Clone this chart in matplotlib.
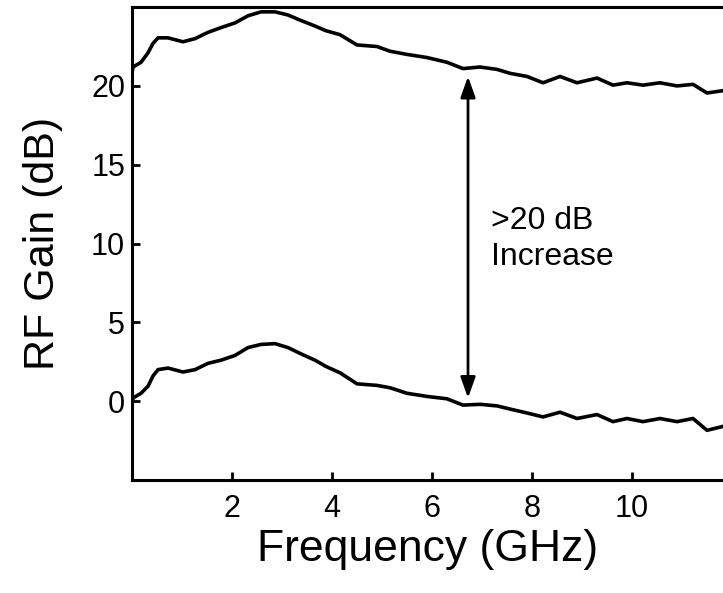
import matplotlib
matplotlib.use('Agg')
import matplotlib.pyplot as plt

plt.rcParams['font.family'] = ['Liberation Sans', 'DejaVu Sans']

# Frequency points (GHz)
freq = [0.0, 0.02, 0.18, 0.32, 0.42, 0.52, 0.72, 1.02, 1.26, 1.52, 1.78, 2.06,
        2.32, 2.58, 2.86, 3.12, 3.38, 3.66, 3.88, 4.16, 4.5, 4.9, 5.16, 5.5,
        5.9, 6.3, 6.62, 6.96, 7.3, 7.56, 7.9, 8.22, 8.56, 8.9, 9.3, 9.62, 9.9,
        10.22, 10.56, 10.9, 11.22, 11.5, 11.82]

# Upper trace (after) in dB
gain_high = [20.8, 21.2, 21.5, 22.1, 22.7, 23.05, 23.05, 22.8, 23.0, 23.4, 23.7, 24.0,
             24.45, 24.7, 24.7, 24.5, 24.15, 23.8, 23.5, 23.25, 22.6, 22.5, 22.2, 22.0,
             21.8, 21.5, 21.1, 21.2, 21.05, 20.8, 20.6, 20.2, 20.6, 20.2, 20.5, 20.05, 20.2,
             20.05, 20.2, 20.0, 20.1, 19.55, 19.7]

# Lower trace (before) in dB
gain_low = [-0.3, 0.2, 0.5, 0.95, 1.6, 2.0, 2.1, 1.85, 2.0, 2.4, 2.6, 2.9,
            3.4, 3.6, 3.65, 3.4, 3.0, 2.6, 2.2, 1.8, 1.1, 1.0, 0.85, 0.5,
            0.3, 0.15, -0.25, -0.2, -0.3, -0.5, -0.75, -1.0, -0.7, -1.1, -0.85, -1.3, -1.1,
            -1.3, -1.1, -1.3, -1.1, -1.85, -1.6]

arrow_x = 6.72
arrow_top = 20.6
arrow_bottom = 0.2

fig = plt.figure(figsize=(7.23, 5.93), dpi=100)
ax = fig.add_axes([0.1826, 0.1906, 0.8174, 0.7974])

ax.plot(freq, gain_high, color='black', lw=2.6)
ax.plot(freq, gain_low, color='black', lw=2.6)

# double arrow between the two traces
ax.annotate('', xy=(arrow_x, arrow_top), xytext=(arrow_x, arrow_bottom),
            arrowprops=dict(arrowstyle='<|-|>,head_length=0.7,head_width=0.25',
                            color='black', lw=2,
                            mutation_scale=18, shrinkA=0, shrinkB=0))
ax.text(7.18, 10.3, '>20 dB\nIncrease', fontsize=23, ha='left', va='center',
        linespacing=1.25)

ax.set_xlim(0, 11.82)
ax.set_ylim(-5, 25)
ax.set_xticks([2, 4, 6, 8, 10])
ax.set_yticks([0, 5, 10, 15, 20])

ax.spines['right'].set_visible(False)
for s in ['left', 'bottom', 'top']:
    ax.spines[s].set_linewidth(2.2)

ax.tick_params(direction='in', length=6, width=2, labelsize=22)
ax.tick_params(axis='y', pad=5)
ax.tick_params(axis='x', pad=10)
ax.set_xlabel('Frequency (GHz)', fontsize=32, labelpad=4)
ax.set_ylabel('RF Gain (dB)', fontsize=31, labelpad=20)

fig.savefig('out.png', dpi=100)
